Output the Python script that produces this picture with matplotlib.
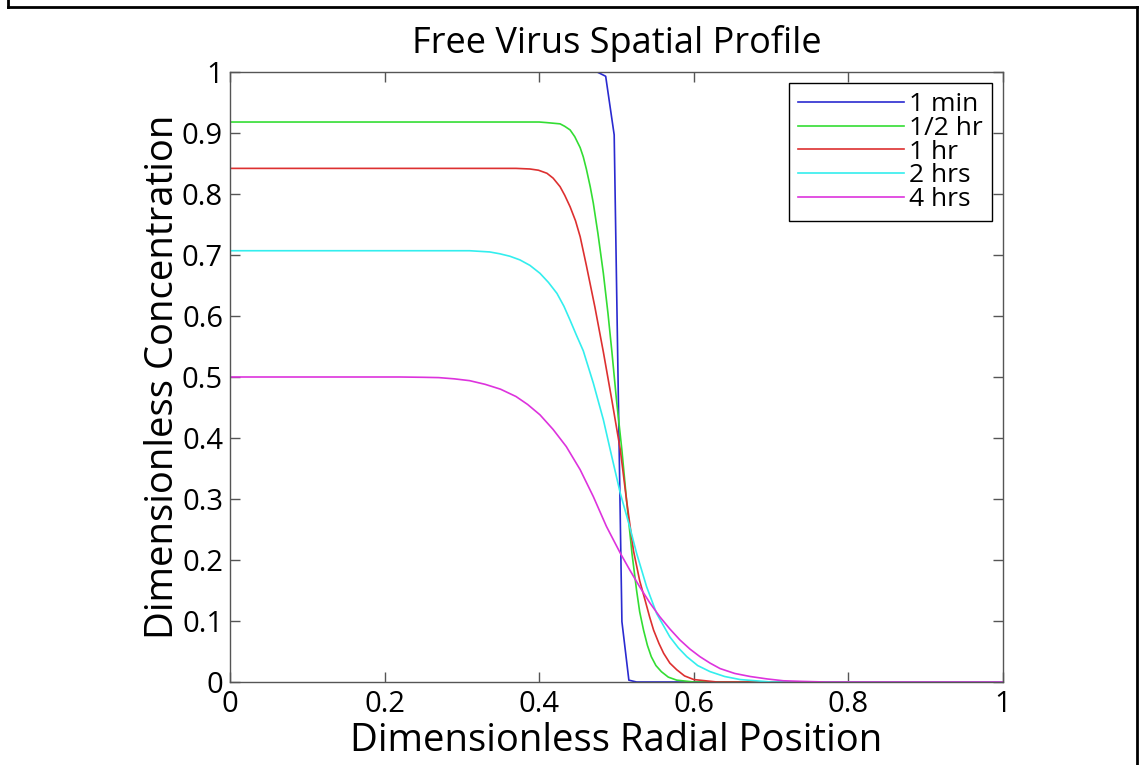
import matplotlib
matplotlib.use("Agg")
import matplotlib.pyplot as plt
from matplotlib.lines import Line2D

plt.rcParams['font.family'] = ['Open Sans', 'DejaVu Sans']

# profiles (x = radial position, c = concentration)
x_1min = [0, 0.475, 0.486, 0.497, 0.507, 0.516, 0.526, 1.0]
c_1min = [1.0, 1.0, 0.993, 0.897, 0.099, 0.003, 0.0, 0.0]

x_half = [0, 0.40, 0.41, 0.427, 0.433, 0.44, 0.446, 0.453, 0.457, 0.461, 0.466, 0.470, 0.476,
          0.483, 0.489, 0.494, 0.500, 0.507, 0.513, 0.520, 0.526, 0.530, 0.535, 0.540,
          0.545, 0.551, 0.558, 0.567, 0.578, 0.60, 1.0]
c_half = [0.918, 0.918, 0.917, 0.915, 0.911, 0.905, 0.894, 0.876, 0.861, 0.841, 0.812, 0.785,
          0.735, 0.670, 0.604, 0.542, 0.462, 0.380, 0.298, 0.211, 0.150, 0.115, 0.085, 0.060,
          0.0415, 0.027, 0.017, 0.008, 0.003, 0.0, 0.0]

x_1hr = [0, 0.37, 0.388, 0.399, 0.41, 0.418, 0.427, 0.433, 0.44, 0.447, 0.453, 0.461, 0.472,
         0.483, 0.494, 0.505, 0.513, 0.522, 0.530, 0.537, 0.543, 0.548, 0.555, 0.561, 0.569,
         0.578, 0.588, 0.60, 0.63, 1.0]
c_1hr = [0.842, 0.842, 0.841, 0.839, 0.834, 0.826, 0.812, 0.798, 0.779, 0.756, 0.730, 0.683,
         0.615, 0.541, 0.462, 0.380, 0.298, 0.215, 0.166, 0.134, 0.106, 0.085, 0.063, 0.047,
         0.031, 0.020, 0.010, 0.004, 0.0, 0.0]

x_2hr = [0, 0.29, 0.310, 0.323, 0.336, 0.349, 0.362, 0.375, 0.388, 0.401, 0.412, 0.423, 0.432,
         0.44, 0.448, 0.457, 0.47, 0.483, 0.494, 0.505, 0.517, 0.526, 0.539, 0.552, 0.569,
         0.580, 0.591, 0.605, 0.621, 0.64, 0.66, 0.70, 1.0]
c_2hr = [0.707, 0.707, 0.707, 0.706, 0.705, 0.702, 0.698, 0.692, 0.683, 0.670, 0.655, 0.637,
         0.616, 0.593, 0.569, 0.543, 0.490, 0.430, 0.369, 0.309, 0.255, 0.211, 0.156, 0.112,
         0.074, 0.056, 0.0415, 0.027, 0.017, 0.009, 0.004, 0.0, 0.0]

x_4hr = [0, 0.22, 0.25, 0.27, 0.29, 0.31, 0.33, 0.35, 0.37, 0.385, 0.401, 0.418, 0.435, 0.453,
         0.47, 0.487, 0.505, 0.517, 0.53, 0.543, 0.556, 0.569, 0.582, 0.595, 0.608, 0.621,
         0.634, 0.653, 0.673, 0.695, 0.716, 0.74, 0.77, 1.0]
c_4hr = [0.5, 0.5, 0.4995, 0.499, 0.497, 0.494, 0.488, 0.480, 0.468, 0.455, 0.438, 0.414, 0.386,
         0.348, 0.304, 0.255, 0.211, 0.184, 0.156, 0.130, 0.107, 0.087, 0.069, 0.054, 0.0415,
         0.031, 0.022, 0.014, 0.009, 0.005, 0.002, 0.001, 0.0, 0.0]

labels = ['1 min', '1/2 hr', '1 hr', '2 hrs', '4 hrs']
colors = ['#2a2ad0', '#33dd33', '#dd3030', '#33eeee', '#dd33dd']

x_ticks = [0, 0.2, 0.4, 0.6, 0.8, 1]
x_ticklabels = ['0', '0.2', '0.4', '0.6', '0.8', '1']
y_ticks = [0, 0.1, 0.2, 0.3, 0.4, 0.5, 0.6, 0.7, 0.8, 0.9, 1]
y_ticklabels = ['0', '0.1', '0.2', '0.3', '0.4', '0.5', '0.6', '0.7', '0.8', '0.9', '1']

fig = plt.figure(figsize=(11.39, 7.65), dpi=100)
ax = fig.add_axes([230 / 1139, 1 - 682 / 765, 773 / 1139, 610 / 765])

series = [(x_1min, c_1min), (x_half, c_half), (x_1hr, c_1hr), (x_2hr, c_2hr), (x_4hr, c_4hr)]
for (xs, cs), lab, col in zip(series, labels, colors):
    ax.plot(xs, cs, color=col, lw=1.2, label=lab)

ax.set_xlim(0, 1)
ax.set_ylim(0, 1)
ax.set_xticks(x_ticks)
ax.set_xticklabels(x_ticklabels)
ax.set_yticks(y_ticks)
ax.set_yticklabels(y_ticklabels)
ax.tick_params(direction='in', length=7, width=1, color='#555555', labelsize=21,
               top=True, right=True)
ax.tick_params(axis='x', pad=6)
ax.tick_params(axis='y', pad=5)
for s in ax.spines.values():
    s.set_color('#555555')
    s.set_linewidth(1)

ax.set_title('Free Virus Spatial Profile', fontsize=26, pad=14)
ax.set_xlabel('Dimensionless Radial Position', fontsize=27.5, labelpad=2)
ax.set_ylabel('Dimensionless Concentration', fontsize=27.5, labelpad=0)

leg = ax.legend(loc='upper right', bbox_to_anchor=(0.986, 0.982), borderaxespad=0,
                fontsize=19, handlelength=4.0, handletextpad=0.2, labelspacing=-0.05,
                fancybox=False, framealpha=1, borderpad=0.35)
leg.get_frame().set_edgecolor('black')
leg.get_frame().set_linewidth(1)

# black frame round the exported figure
for xs, ys in [([8, 8], [0, 7]), ([8, 1137], [7, 7]), ([1137, 1137], [7, 765])]:
    fig.add_artist(Line2D([v / 1139 for v in xs], [1 - v / 765 for v in ys],
                          transform=fig.transFigure, color='black', lw=2))

fig.savefig('out.png', dpi=100)
